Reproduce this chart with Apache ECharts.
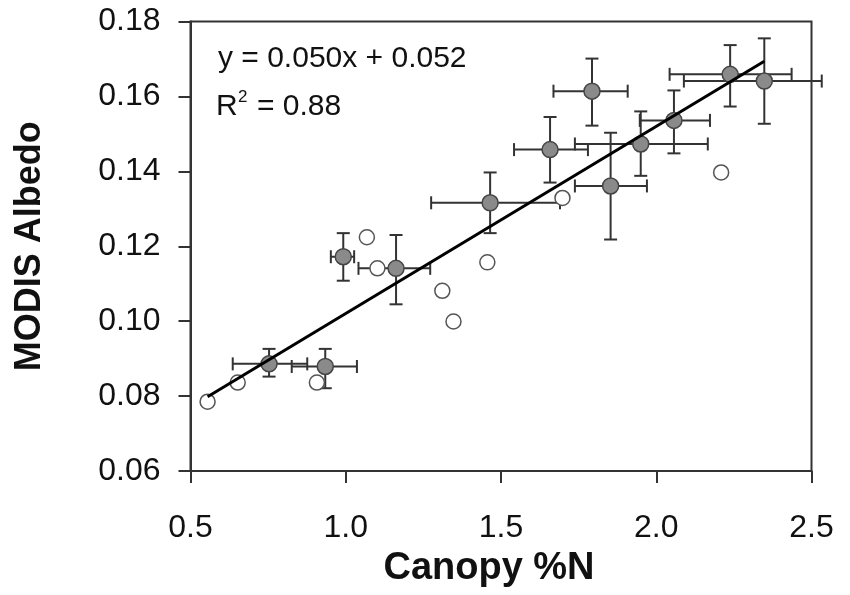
<!DOCTYPE html>
<html>
<head>
<meta charset="utf-8">
<script src="https://cdn.jsdelivr.net/npm/echarts@6/dist/echarts.min.js"></script>
<style>html,body{margin:0;padding:0;background:#fff;}#c{width:850px;height:595px;}</style>
</head>
<body>
<div id="c"></div>
<script>
// Filled points with error bars
var filledX = [0.753, 0.934, 0.992, 1.162, 1.465, 1.658, 1.793, 1.853, 1.950, 2.057, 2.238, 2.348];
var filledY = [0.0886, 0.0879, 0.1172, 0.1141, 0.1316, 0.1458, 0.1614, 0.1361, 0.1473, 0.1536, 0.1659, 0.1641];
var xLow  = [0.636, 0.826, 0.952, 1.041, 1.275, 1.542, 1.669, 1.738, 1.738, 1.947, 2.043, 2.089];
var xHigh = [0.876, 1.036, 1.027, 1.272, 1.690, 1.780, 1.908, 1.970, 2.166, 2.173, 2.436, 2.533];
var yLow  = [0.0852, 0.0821, 0.1108, 0.1045, 0.1235, 0.1370, 0.1522, 0.1218, 0.1388, 0.1448, 0.1573, 0.1527];
var yHigh = [0.0926, 0.0926, 0.1235, 0.1230, 0.1397, 0.1545, 0.1701, 0.1503, 0.1560, 0.1616, 0.1737, 0.1755];
// Open points
var openX = [0.555, 0.652, 0.907, 1.068, 1.102, 1.311, 1.347, 1.456, 1.698, 2.209];
var openY = [0.0785, 0.0836, 0.0836, 0.1224, 0.1141, 0.1081, 0.0999, 0.1157, 0.1329, 0.1397];
// Regression line endpoints
var fitX = [0.555, 2.348];
var fitY = [0.0798, 0.1694];
// Text
var eqText = 'y = 0.050x + 0.052';
var r2Value = '= 0.88';
var xTitle = 'Canopy %N';
var yTitle = 'MODIS Albedo';

var errData = filledX.map(function (x, i) { return [x, filledY[i], xLow[i], xHigh[i], yLow[i], yHigh[i]]; });
var openData = openX.map(function (x, i) { return [x, openY[i]]; });
var filledData = filledX.map(function (x, i) { return [x, filledY[i]]; });
var fitData = fitX.map(function (x, i) { return [x, fitY[i]]; });

var FONT = '"Liberation Sans", Arial, sans-serif';
var chart = echarts.init(document.getElementById('c'), null, {renderer: 'canvas'});
var cap = 6.5;
chart.setOption({
  animation: false,
  backgroundColor: '#fff',
  grid: {left: 190.5, right: 38.5, top: 21.5, bottom: 124, show: true, borderColor: '#333', borderWidth: 2, backgroundColor: 'transparent'},
  xAxis: {
    type: 'value', min: 0.5, max: 2.5, interval: 0.5,
    name: xTitle, nameLocation: 'middle', nameGap: 79,
    nameTextStyle: {fontFamily: FONT, fontSize: 38, fontWeight: 'bold', color: '#111', padding: [0, 24, 0, 0]},
    axisLine: {show: true, lineStyle: {color: '#333', width: 2}},
    axisTick: {show: true, length: 12, lineStyle: {color: '#333', width: 2}},
    axisLabel: {margin: 41, fontFamily: FONT, fontSize: 32, color: '#111', formatter: function (v) { return v.toFixed(1); }},
    splitLine: {show: false}
  },
  yAxis: {
    type: 'value', min: 0.06, max: 0.18, interval: 0.02,
    name: yTitle, nameLocation: 'middle', nameGap: 142,
    nameTextStyle: {fontFamily: FONT, fontSize: 36, fontWeight: 'bold', color: '#111'},
    axisLine: {show: true, lineStyle: {color: '#333', width: 2}},
    axisTick: {show: true, length: 12, lineStyle: {color: '#333', width: 2}},
    axisLabel: {margin: 30, fontFamily: FONT, fontSize: 32, color: '#111', formatter: function (v) { return v.toFixed(2); }},
    splitLine: {show: false}
  },
  graphic: [
    {type: 'text', left: 218, top: 44, style: {text: eqText, font: '30px ' + FONT, fill: '#111'}},
    {type: 'text', left: 216, top: 92, style: {text: 'R', font: '30px ' + FONT, fill: '#111'}},
    {type: 'text', left: 238, top: 89, style: {text: '2', font: '17px ' + FONT, fill: '#111'}},
    {type: 'text', left: 257, top: 92, style: {text: r2Value, font: '30px ' + FONT, fill: '#111'}}
  ],
  series: [
    {
      type: 'custom', clip: false, z: 2,
      renderItem: function (params, api) {
        var c = api.coord([api.value(0), api.value(1)]);
        var xl = api.coord([api.value(2), api.value(1)]);
        var xh = api.coord([api.value(3), api.value(1)]);
        var yl = api.coord([api.value(0), api.value(4)]);
        var yh = api.coord([api.value(0), api.value(5)]);
        var st = {stroke: '#333', lineWidth: 2, fill: null};
        return {type: 'group', children: [
          {type: 'line', shape: {x1: xl[0], y1: c[1], x2: xh[0], y2: c[1]}, style: st},
          {type: 'line', shape: {x1: xl[0], y1: c[1] - cap, x2: xl[0], y2: c[1] + cap}, style: st},
          {type: 'line', shape: {x1: xh[0], y1: c[1] - cap, x2: xh[0], y2: c[1] + cap}, style: st},
          {type: 'line', shape: {x1: c[0], y1: yl[1], x2: c[0], y2: yh[1]}, style: st},
          {type: 'line', shape: {x1: c[0] - cap, y1: yl[1], x2: c[0] + cap, y2: yl[1]}, style: st},
          {type: 'line', shape: {x1: c[0] - cap, y1: yh[1], x2: c[0] + cap, y2: yh[1]}, style: st}
        ]};
      },
      data: errData
    },
    {
      type: 'scatter', z: 3, symbol: 'circle', symbolSize: 15,
      itemStyle: {color: '#fff', borderColor: '#555', borderWidth: 1.5, opacity: 1},
      data: openData
    },
    {
      type: 'scatter', z: 4, symbol: 'circle', symbolSize: 16,
      itemStyle: {color: '#8a8a8a', borderColor: '#444', borderWidth: 1.5, opacity: 1},
      data: filledData
    },
    {
      type: 'line', z: 5, symbol: 'none', showSymbol: false,
      lineStyle: {color: '#000', width: 3},
      data: fitData
    }
  ]
});
</script>
</body>
</html>
